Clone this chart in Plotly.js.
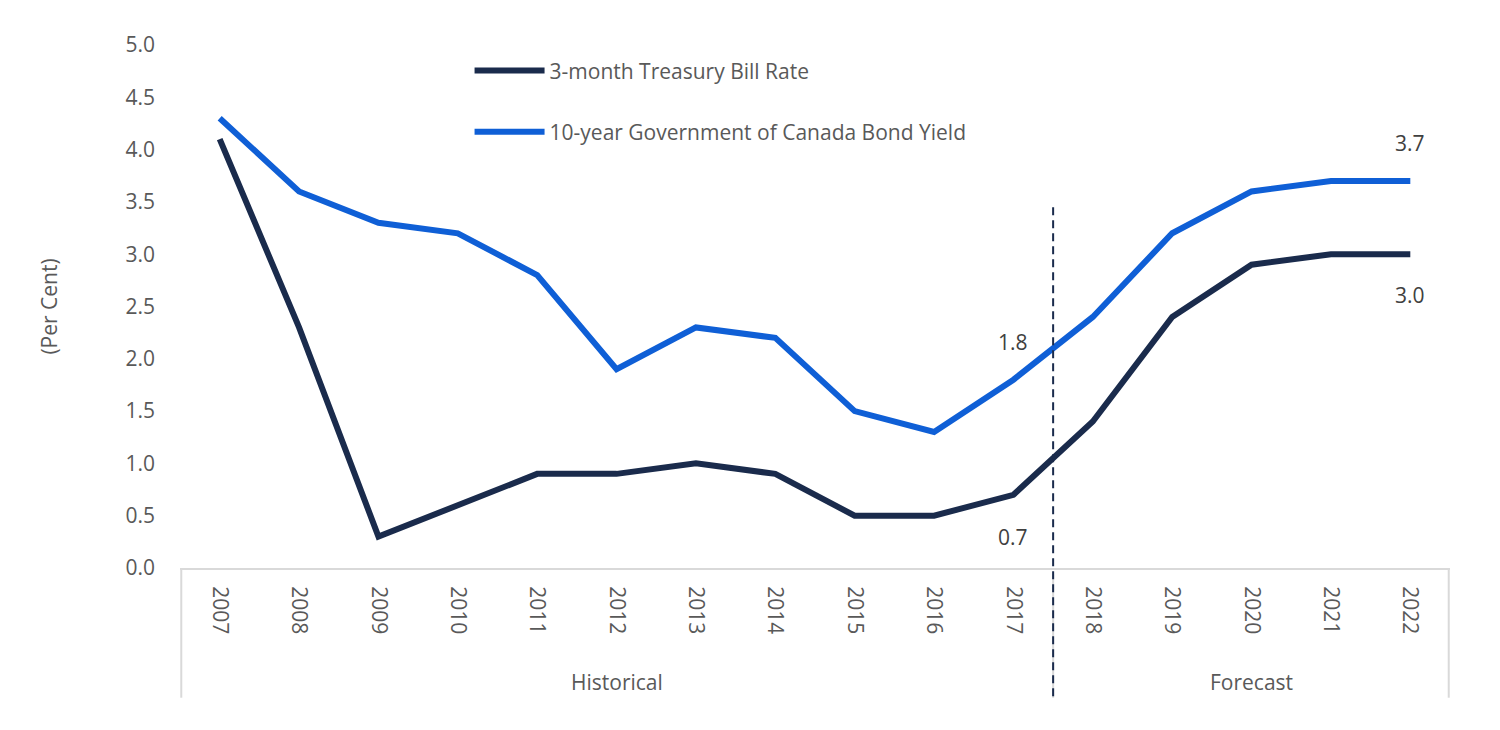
<!DOCTYPE html>
<html>
<head>
<meta charset="utf-8">
<script src="https://cdn.plot.ly/plotly-3.0.1.min.js"></script>
<style>html,body{margin:0;padding:0;background:#fff;}#chart{width:1500px;height:730px;}</style>
</head>
<body>
<div id="chart"></div>
<script>
const years = ["2007","2008","2009","2010","2011","2012","2013","2014","2015","2016","2017","2018","2019","2020","2021","2022"];
const tbill = [4.1,2.3,0.3,0.6,0.9,0.9,1.0,0.9,0.5,0.5,0.7,1.4,2.4,2.9,3.0,3.0];
const bond = [4.3,3.6,3.3,3.2,2.8,1.9,2.3,2.2,1.5,1.3,1.8,2.4,3.2,3.6,3.7,3.7];
const seriesNames = ["3-month Treasury Bill Rate","10-year Government of Canada Bond Yield"];
const groupLabels = ["Historical","Forecast"];
const yTicks = [0,0.5,1,1.5,2,2.5,3,3.5,4,4.5,5];

const FONT = "'Segoe UI', 'Open Sans', 'Noto Sans', sans-serif";
const navy = "#1a2b4c";
const blue = "#0f5fd6";
const txt = "#595959";
const lbl = "#404040";
const axisCol = "#d9d9d9";

const traces = [
  {x: years, y: tbill, name: seriesNames[0], legendgroup: "a", type: "scatter", mode: "lines",
   line: {color: navy, width: 6, shape: "linear"}},
  {x: years, y: bond, name: seriesNames[1], legendgroup: "b", type: "scatter", mode: "lines",
   line: {color: blue, width: 6, shape: "linear"}}
];

const n = years.length;
const splitIdx = years.indexOf("2017") + 0.5;

const annotations = [
  {x: years.indexOf("2017"), y: bond[10], text: bond[10].toFixed(1), showarrow: false, xanchor: "center", yanchor: "bottom", yshift: 22, font: {family: FONT, size: 21, color: lbl}},
  {x: years.indexOf("2017"), y: tbill[10], text: tbill[10].toFixed(1), showarrow: false, xanchor: "center", yanchor: "top", yshift: -26, font: {family: FONT, size: 21, color: lbl}},
  {x: n - 1, y: bond[n-1], text: bond[n-1].toFixed(1), showarrow: false, xanchor: "center", yanchor: "bottom", yshift: 22, font: {family: FONT, size: 21, color: lbl}},
  {x: n - 1, y: tbill[n-1], text: tbill[n-1].toFixed(1), showarrow: false, xanchor: "center", yanchor: "top", yshift: -25, font: {family: FONT, size: 21, color: lbl}},
  {x: (-0.5 + splitIdx) / 2, xref: "x", y: -0.218, yref: "paper", text: groupLabels[0], showarrow: false, xanchor: "center", yanchor: "middle", font: {family: FONT, size: 21, color: txt}},
  {x: (splitIdx + n - 0.5) / 2, xref: "x", y: -0.218, yref: "paper", text: groupLabels[1], showarrow: false, xanchor: "center", yanchor: "middle", font: {family: FONT, size: 21, color: txt}}
];

const shapes = [
  {type: "line", xref: "paper", yref: "paper", x0: 0.001, x1: 0.001, y0: 0, y1: -0.248, line: {color: axisCol, width: 2}},
  {type: "line", xref: "paper", yref: "paper", x0: 0.999, x1: 0.999, y0: 0, y1: -0.248, line: {color: axisCol, width: 2}},
  {type: "line", xref: "x", yref: "paper", x0: splitIdx, x1: splitIdx, y0: -0.012, y1: -0.248, line: {color: axisCol, width: 2}},
  {type: "line", xref: "x", yref: "paper", x0: splitIdx, x1: splitIdx, y0: -0.245, y1: 0.69, line: {color: navy, width: 2, dash: "8px,5px"}}
];

const layout = {
  width: 1500, height: 730,
  margin: {l: 180, r: 50, t: 45, b: 162},
  paper_bgcolor: "#fff", plot_bgcolor: "#fff",
  font: {family: FONT, size: 21, color: txt},
  showlegend: true,
  legend: {x: 0.228, y: 0.99, xanchor: "left", yanchor: "top", orientation: "v",
    traceorder: "grouped",
    font: {family: FONT, size: 21, color: txt}, tracegroupgap: 31, itemwidth: 70,
    bgcolor: "rgba(0,0,0,0)"},
  xaxis: {type: "category", categoryorder: "array", categoryarray: years,
    range: [-0.5, n - 0.5], tickangle: 90, showgrid: false, zeroline: false,
    showline: true, linecolor: axisCol, linewidth: 2, ticks: "", ticklen: 0,
    ticklabelstandoff: 12,
    tickfont: {family: FONT, size: 21, color: txt}, automargin: false},
  yaxis: {range: [0, 5], tickvals: yTicks, ticktext: yTicks.map(v => v.toFixed(1)),
    showgrid: false, zeroline: false, showline: false, ticks: "",
    ticklabelstandoff: 24,
    tickfont: {family: FONT, size: 21, color: txt}, automargin: false,
    title: {text: "(Per Cent)", standoff: 62, font: {family: FONT, size: 21, color: txt}}},
  annotations: annotations,
  shapes: shapes
};

Plotly.newPlot("chart", traces, layout, {displayModeBar: false, staticPlot: true});
</script>
</body>
</html>
